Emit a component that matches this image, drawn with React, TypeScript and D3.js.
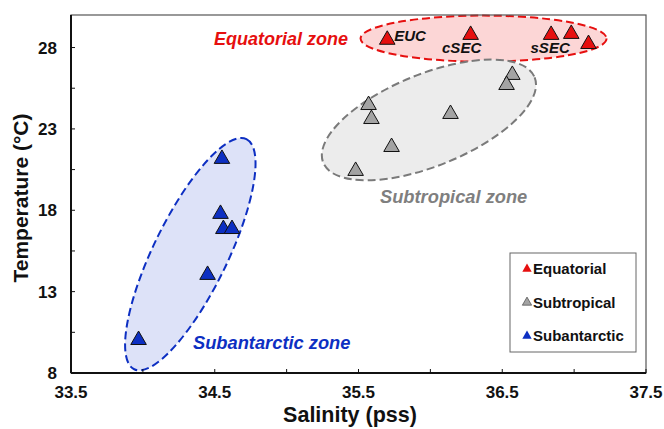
import React from 'react';
import * as d3 from 'd3';

const width = 664;
const height = 429;
const margin = { top: 15, right: 18, bottom: 56, left: 71 };

const equatorialSal = [35.7, 36.28, 36.84, 36.98, 37.1];
const equatorialTemp = [28.6, 28.9, 28.9, 28.96, 28.34];
const subtropicalSal = [36.57, 36.53, 35.57, 35.59, 36.14, 35.73, 35.48];
const subtropicalTemp = [26.44, 25.82, 24.59, 23.73, 24.04, 22.01, 20.54];
const subantarcticSal = [34.55, 34.54, 34.56, 34.62, 34.45, 33.97];
const subantarcticTemp = [21.28, 17.9, 16.97, 16.97, 14.15, 10.15];

const xTickLabels = [33.5, 34.5, 35.5, 36.5, 37.5];
const yTickLabels = [8, 13, 18, 23, 28];
const legendLabels = ['Equatorial', 'Subtropical', 'Subantarctic'];

const font = "Arial, 'Liberation Sans', sans-serif";
const red = '#e60f0f';
const gray = '#a3a3a3';
const blue = '#0d2fc2';

const x = d3.scaleLinear().domain([33.5, 37.5]).range([margin.left, width - margin.right]);
const y = d3.scaleLinear().domain([8, 30]).range([height - margin.bottom, margin.top]);

const tri = d3.symbol(d3.symbolTriangle, 105)();
const triSmall = d3.symbol(d3.symbolTriangle, 38)();

const series = [
  { name: 'Equatorial', sal: equatorialSal, temp: equatorialTemp, fill: red },
  { name: 'Subtropical', sal: subtropicalSal, temp: subtropicalTemp, fill: gray },
  { name: 'Subantarctic', sal: subantarcticSal, temp: subantarcticTemp, fill: blue },
];

export default function App() {
  const x0 = x.range()[0];
  const x1 = x.range()[1];
  const y0 = y.range()[0];
  const y1 = y.range()[1];
  const xMinor = d3.range(33.5, 37.51, 0.5);
  const yMinor = d3.range(8, 30.01, 2.5);

  return (
    <svg width={width} height={height} style={{ position: 'absolute', left: 0, top: 0, background: '#fff' }} fontFamily={font}>
      {/* zone ellipses */}
      <ellipse cx={x(36.37)} cy={y(28.55)} rx={123} ry={23} fill="#fcd6d6" stroke={red} strokeWidth={2} strokeDasharray="8 4" />
      <g transform={`translate(${x(35.99)},${y(23.55)}) rotate(-22)`}>
        <ellipse rx={114} ry={46} fill="#ececec" stroke="#7a7a7a" strokeWidth={2} strokeDasharray="8 4" />
      </g>
      <g transform={`translate(${x(34.33)},${y(15.3)}) rotate(-64)`}>
        <ellipse rx={128} ry={37} fill="#dde2f8" stroke={blue} strokeWidth={2} strokeDasharray="8 4" />
      </g>

      {/* frame */}
      <rect x={x0} y={y1} width={x1 - x0} height={y0 - y1} fill="none" stroke="#555" strokeWidth={1.2} />
      <line x1={x0} x2={x0} y1={y1} y2={y0} stroke="#111" strokeWidth={2} />
      <line x1={x0} x2={x1} y1={y0} y2={y0} stroke="#111" strokeWidth={2} />
      {xMinor.map(v => (
        <line key={'xt' + v} x1={x(v)} x2={x(v)} y1={y0} y2={y0 - 4} stroke="#111" strokeWidth={1} />
      ))}
      {yMinor.map(v => (
        <line key={'yt' + v} x1={x0} x2={x0 + 4} y1={y(v)} y2={y(v)} stroke="#111" strokeWidth={1} />
      ))}
      {xTickLabels.map(v => (
        <text key={'xl' + v} x={x(v)} y={y0 + 25} textAnchor="middle" fontSize={17} fontWeight="bold" fill="#111">
          {v.toFixed(1)}
        </text>
      ))}
      {yTickLabels.map(v => (
        <text key={'yl' + v} x={x0 - 14} y={y(v) + 6} textAnchor="end" fontSize={17} fontWeight="bold" fill="#111">
          {v}
        </text>
      ))}
      <text x={350} y={y0 + 49} textAnchor="middle" fontSize={21.5} fontWeight="bold" fill="#111">
        Salinity (pss)
      </text>
      <text transform={`translate(28,${(y0 + y1) / 2 + 4}) rotate(-90)`} textAnchor="middle" fontSize={21} fontWeight="bold" fill="#111">
        Temperature (°C)
      </text>

      {/* points */}
      {series.map(s =>
        s.sal.map((v, i) => (
          <path key={s.name + i} d={tri} transform={`translate(${x(v)},${y(s.temp[i]) + 2})`} fill={s.fill} stroke="#111" strokeWidth={1} />
        ))
      )}

      {/* point labels */}
      <g fontSize={15} fontWeight="bold" fontStyle="italic" fill="#111">
        <text x={x(equatorialSal[0]) + 7} y={y(equatorialTemp[0]) + 3}>EUC</text>
        <text x={x(equatorialSal[1]) - 9} y={y(equatorialTemp[1]) + 20} textAnchor="middle">cSEC</text>
        <text x={x(equatorialSal[2]) - 1} y={y(equatorialTemp[2]) + 20} textAnchor="middle">sSEC</text>
      </g>

      {/* zone labels */}
      <g fontWeight="bold" fontStyle="italic">
        <text x={348} y={45} textAnchor="end" fontSize={18} fill={red}>Equatorial zone</text>
        <text x={380} y={203} fontSize={18.3} fill="#7f7f7f">Subtropical zone</text>
        <text x={193} y={349} fontSize={18.3} fill={blue}>Subantarctic zone</text>
      </g>

      {/* legend */}
      <rect x={510} y={253} width={126} height={99} fill="#fff" stroke="#666" strokeWidth={1} />
      {legendLabels.map((name, i) => (
        <g key={name} transform={`translate(527,${269 + i * 33.5})`}>
          <path d={triSmall} fill={series[i].fill} stroke={i === 1 ? '#333' : 'none'} strokeWidth={0.6} />
          <text x={6} y={5} fontSize={15} fontWeight="bold" fill="#111">{name}</text>
        </g>
      ))}
    </svg>
  );
}
